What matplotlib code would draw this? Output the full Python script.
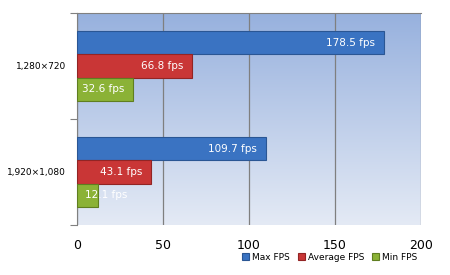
import numpy as np
import matplotlib.pyplot as plt
from matplotlib.colors import LinearSegmentedColormap

resolutions = ['1,280×720', '1,920×1,080']
series_names = ['Max FPS', 'Average FPS', 'Min FPS']
max_fps = [178.5, 109.7]
avg_fps = [66.8, 43.1]
min_fps = [32.6, 12.1]
x_ticks = [0, 50, 100, 150, 200]

colors = ['#3a73c2', '#c93636', '#8bb236']
edges = ['#2a5694', '#922424', '#5f7e20']

fig = plt.figure(figsize=(4.5, 2.75), dpi=100)
ax = fig.add_axes([77 / 450, 1 - 225 / 275, 344 / 450, 212 / 275])

# gradient background
grad = LinearSegmentedColormap.from_list('bg', ['#97b1de', '#e4eaf5'])
ax.imshow(np.linspace(0, 1, 256).reshape(-1, 1), aspect='auto', cmap=grad,
          extent=[0, 1, 0, 1], transform=ax.transAxes, zorder=0)

y = np.arange(len(resolutions))
h = 0.22
offsets = [-h, 0, h]
for i, (vals, name) in enumerate(zip([max_fps, avg_fps, min_fps], series_names)):
    ax.barh(y + offsets[i], vals, height=h, color=colors[i], edgecolor=edges[i],
            linewidth=0.8, label=name, zorder=3)
    for yy, v in zip(y + offsets[i], vals):
        if v < 25:
            ax.text(4.8, yy, f'{v} fps', color='white', va='center', ha='left',
                    fontsize=7.5, zorder=4)
        else:
            ax.text(v - 5, yy, f'{v} fps', color='white', va='center', ha='right',
                    fontsize=7.5, zorder=4)

ax.set_xlim(0, 200)
ax.set_ylim(1.5, -0.5)
ax.set_xticks(x_ticks)
ax.tick_params(axis='x', length=0, labelsize=9, pad=10)
ax.set_yticks([-0.5, 0.5, 1.5], minor=False)
ax.set_yticklabels([])
ax.set_yticks(y, minor=True)
ax.set_yticklabels(resolutions, minor=True)
ax.tick_params(axis='y', which='major', length=5, color='#808080', direction='out')
ax.tick_params(axis='y', which='minor', length=0, labelsize=6.5, pad=8)

ax.grid(axis='x', color='#7f7f7f', linewidth=0.9, zorder=1)
ax.set_axisbelow(True)
for s in ['right', 'bottom']:
    ax.spines[s].set_visible(False)
ax.spines['left'].set_color('#808080')
ax.spines['top'].set_color('#808080')

ax.legend(loc='upper right', bbox_to_anchor=(1.0, -0.115), ncol=3, frameon=False,
          fontsize=6.5, handlelength=0.8, handleheight=0.8, handletextpad=0.3,
          columnspacing=0.9, borderaxespad=0)

fig.savefig('out.png', dpi=100)
